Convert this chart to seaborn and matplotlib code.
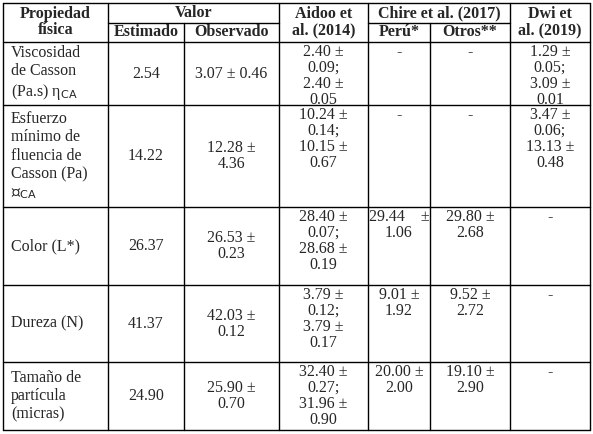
import matplotlib
matplotlib.use("Agg")
import matplotlib.pyplot as plt
import seaborn as sns

sns.set_theme(style="white")
plt.rcParams['font.family'] = ['Liberation Serif', 'DejaVu Serif']

# table contents
propiedades = ["Viscosidad\nde Casson\n(Pa.s) η$_{\\mathrm{CA}}$",
               "Esfuerzo\nmínimo de\nfluencia de\nCasson (Pa)\n\u25af$_{\\mathrm{CA}}$",
               "Color (L*)", "Dureza (N)", "Tamaño de\npartícula\n(micras)"]
estimado = ["2.54", "14.22", "26.37", "41.37", "24.90"]
observado = ["3.07 ± 0.46", "12.28 ±\n4.36", "26.53 ±\n0.23", "42.03 ±\n0.12", "25.90 ±\n0.70"]
aidoo = ["2.40 ±\n0.09;\n2.40 ±\n0.05", "10.24 ±\n0.14;\n10.15 ±\n0.67",
         "28.40 ±\n0.07;\n28.68 ±\n0.19", "3.79 ±\n0.12;\n3.79 ±\n0.17",
         "32.40 ±\n0.27;\n31.96 ±\n0.90"]
peru = ["-", "-", "29.44    ±\n1.06", "9.01 ±\n1.92", "20.00 ±\n2.00"]
otros = ["-", "-", "29.80 ±\n2.68", "9.52 ±\n2.72", "19.10 ±\n2.90"]
dwi = ["1.29 ±\n0.05;\n3.09 ±\n0.01", "3.47 ±\n0.06;\n13.13 ±\n0.48", "-", "-", "-"]

W, H = 593, 434
fig = plt.figure(figsize=(W / 100, H / 100), dpi=100)
ax = fig.add_axes([0, 0, 1, 1])
ax.set_xlim(0, W)
ax.set_ylim(H, 0)
ax.axis("off")

xs = [3, 108, 184, 279, 368, 430, 510, 590]
ys = [3, 23, 42, 105, 207, 285, 362, 430]
kw = dict(color="black", lw=1.0)
for y in [ys[0], ys[2], ys[3], ys[4], ys[5], ys[6], ys[7]]:
    ax.plot([xs[0], xs[-1]], [y, y], **kw)
ax.plot([xs[1], xs[3]], [ys[1], ys[1]], **kw)
ax.plot([xs[4], xs[6]], [ys[1], ys[1]], **kw)
for i, x in enumerate(xs):
    if i in (2, 5):
        ax.plot([x, x], [ys[1], ys[-1]], **kw)
    else:
        ax.plot([x, x], [ys[0], ys[-1]], **kw)

fs = 11.5
bold = dict(fontsize=fs, fontweight="bold", ha="center", va="center", linespacing=1.05)
def cx(i):
    return (xs[i] + xs[i + 1]) / 2
ax.text(cx(0), 22, "Propiedad\nfísica", **bold)
ax.text((xs[1] + xs[3]) / 2, 13, "Valor", **bold)
ax.text(cx(1), 32, "Estimado", **bold)
ax.text(cx(2), 32, "Observado", **bold)
ax.text(cx(3), 22, "Aidoo et\nal. (2014)", **bold)
ax.text((xs[4] + xs[6]) / 2, 13, "Chire et al. (2017)", **bold)
ax.text(cx(4), 32, "Perú*", **bold)
ax.text(cx(5), 32, "Otros**", **bold)
ax.text(cx(6), 22, "Dwi et\nal. (2019)", **bold)

cols = [estimado, observado, aidoo, peru, otros, dwi]
for r in range(5):
    ymid = (ys[r + 2] + ys[r + 3]) / 2
    ax.text(xs[0] + 8, ymid, propiedades[r], ha="left", va="center",
            fontsize=fs, linespacing=1.2)
    for c, col in enumerate(cols):
        txt = col[r]
        if c >= 2:
            ax.text(cx(c + 1), ys[r + 2] + 2, txt, ha="center", fontsize=fs,
                    va="top", linespacing=1.0)
        else:
            ax.text(cx(c + 1), ymid, txt, ha="center", va="center",
                    fontsize=fs, linespacing=1.0)

fig.savefig("out.png", dpi=100)
